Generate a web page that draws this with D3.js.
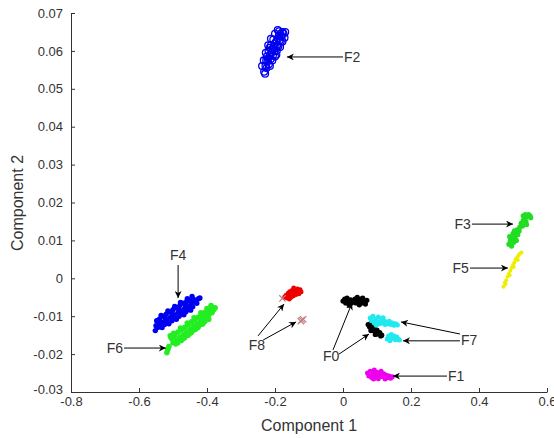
<!DOCTYPE html>
<html lang="en">
<head>
<meta charset="utf-8">
<title>Component scatter</title>
<script src="https://cdn.jsdelivr.net/npm/d3@7"></script>
<style>
  body { margin: 0; background: #fff; }
  svg { font-family: "Liberation Sans", Arial, sans-serif; }
  .tick text { font-size: 13px; fill: #333; }
  .axis path, .axis line { stroke: #333; }
  .lab { font-size: 16px; fill: #333; }
  .ann { font-size: 14px; fill: #333; }
</style>
</head>
<body>
<script>
// ---- data ----
var xTicks = [-0.8, -0.6, -0.4, -0.2, 0, 0.2, 0.4, 0.6];
var xTickLabels = ["-0.8", "-0.6", "-0.4", "-0.2", "0", "0.2", "0.4", "0.6"];
var yTicks = [-0.03, -0.02, -0.01, 0, 0.01, 0.02, 0.03, 0.04, 0.05, 0.06, 0.07];
var yTickLabels = ["-0.03", "-0.02", "-0.01", "0", "0.01", "0.02", "0.03", "0.04", "0.05", "0.06", "0.07"];

var F2 = [[-0.232,0.0545],[-0.228,0.0560],[-0.225,0.0555],[-0.222,0.0572],[-0.220,0.0580],[-0.218,0.0565],
  [-0.215,0.0590],[-0.213,0.0578],[-0.210,0.0595],[-0.208,0.0605],[-0.206,0.0588],[-0.204,0.0612],
  [-0.202,0.0600],[-0.200,0.0620],[-0.198,0.0610],[-0.196,0.0625],[-0.193,0.0615],[-0.191,0.0632],
  [-0.189,0.0640],[-0.186,0.0628],[-0.184,0.0645],[-0.181,0.0638],[-0.178,0.0650],[-0.175,0.0645],
  [-0.212,0.0615],[-0.219,0.0600],[-0.224,0.0585],[-0.200,0.0585],[-0.195,0.0600],[-0.190,0.0612],
  [-0.226,0.0575],[-0.216,0.0608],[-0.205,0.0630],[-0.188,0.0652],[-0.183,0.0625],[-0.229,0.0540],
  [-0.238,0.0560],[-0.233,0.0575],[-0.227,0.0595],[-0.220,0.0615],[-0.212,0.0632],[-0.200,0.0645],
  [-0.192,0.0655],[-0.185,0.0610],[-0.178,0.0625],[-0.172,0.0635],[-0.215,0.0560],[-0.208,0.0575],
  [-0.196,0.0590],[-0.170,0.0650]];

var F4 = [[-0.550,-0.0125],[-0.545,-0.0130],[-0.548,-0.0112],[-0.540,-0.0108],[-0.538,-0.0122],[-0.535,-0.0128],
  [-0.530,-0.0100],[-0.528,-0.0115],[-0.525,-0.0122],[-0.520,-0.0095],[-0.518,-0.0110],[-0.515,-0.0117],
  [-0.510,-0.0088],[-0.507,-0.0103],[-0.503,-0.0112],[-0.500,-0.0083],[-0.497,-0.0097],[-0.493,-0.0106],
  [-0.490,-0.0078],[-0.486,-0.0092],[-0.482,-0.0100],[-0.480,-0.0072],[-0.476,-0.0086],[-0.472,-0.0094],
  [-0.470,-0.0066],[-0.466,-0.0080],[-0.462,-0.0088],[-0.460,-0.0062],[-0.456,-0.0075],[-0.452,-0.0082],
  [-0.450,-0.0058],[-0.446,-0.0068],[-0.442,-0.0075],[-0.440,-0.0055],[-0.435,-0.0062],[-0.430,-0.0066],
  [-0.425,-0.0054],[-0.421,-0.0052],
  [-0.535,-0.0098],[-0.515,-0.0086],[-0.495,-0.0074],[-0.478,-0.0064],[-0.458,-0.0054],[-0.444,-0.0048],
  [-0.552,-0.0138],[-0.532,-0.0130],[-0.512,-0.0120],[-0.490,-0.0108],[-0.468,-0.0096],[-0.448,-0.0084],
  [-0.543,-0.0114],[-0.523,-0.0104],[-0.503,-0.0093],[-0.483,-0.0082],[-0.463,-0.0072],[-0.443,-0.0061]];

var F6 = [[-0.518,-0.0196],[-0.515,-0.0188],[-0.512,-0.0180],[-0.505,-0.0158],[-0.500,-0.0170],[-0.508,-0.0152],
  [-0.495,-0.0150],[-0.490,-0.0163],[-0.486,-0.0170],[-0.485,-0.0142],[-0.480,-0.0156],[-0.476,-0.0164],
  [-0.475,-0.0136],[-0.470,-0.0149],[-0.466,-0.0157],[-0.465,-0.0129],[-0.460,-0.0142],[-0.456,-0.0150],
  [-0.455,-0.0122],[-0.450,-0.0135],[-0.446,-0.0143],[-0.445,-0.0115],[-0.440,-0.0128],[-0.436,-0.0136],
  [-0.435,-0.0108],[-0.430,-0.0121],[-0.426,-0.0129],[-0.425,-0.0102],[-0.420,-0.0114],[-0.416,-0.0121],
  [-0.415,-0.0096],[-0.410,-0.0107],[-0.406,-0.0113],[-0.405,-0.0090],[-0.400,-0.0100],[-0.396,-0.0104],
  [-0.395,-0.0085],[-0.390,-0.0092],[-0.385,-0.0090],[-0.380,-0.0082],[-0.376,-0.0078],[-0.383,-0.0080],
  [-0.498,-0.0145],[-0.478,-0.0131],[-0.458,-0.0118],[-0.438,-0.0104],[-0.418,-0.0091],[-0.400,-0.0080],
  [-0.388,-0.0072],
  [-0.492,-0.0173],[-0.472,-0.0160],[-0.452,-0.0146],[-0.432,-0.0133],[-0.412,-0.0120],[-0.395,-0.0108]];

var F8 = [[-0.172,-0.0050],[-0.168,-0.0045],[-0.165,-0.0052],[-0.162,-0.0040],[-0.160,-0.0047],[-0.157,-0.0035],
  [-0.155,-0.0043],[-0.152,-0.0050],[-0.150,-0.0032],[-0.148,-0.0040],[-0.145,-0.0046],[-0.142,-0.0030],
  [-0.140,-0.0037],[-0.137,-0.0043],[-0.134,-0.0028],[-0.132,-0.0035],[-0.129,-0.0041],[-0.126,-0.0030],
  [-0.123,-0.0036],[-0.158,-0.0055],[-0.145,-0.0025]];
var F8x = [[-0.121,-0.0110],[-0.117,-0.0108],[-0.124,-0.0113],[-0.178,-0.0053]];

var F0 = [[0.000,-0.0060],[0.005,-0.0055],[0.008,-0.0065],[0.012,-0.0052],[0.015,-0.0062],[0.018,-0.0070],
  [0.022,-0.0057],[0.025,-0.0065],[0.030,-0.0060],[0.035,-0.0055],[0.038,-0.0065],[0.042,-0.0050],
  [0.045,-0.0060],[0.048,-0.0070],[0.052,-0.0055],[0.055,-0.0065],[0.058,-0.0052],[0.062,-0.0060],
  [0.066,-0.0068],[0.070,-0.0058],
  [0.074,-0.0122],[0.078,-0.0128],[0.080,-0.0120],[0.084,-0.0133],[0.087,-0.0127],[0.090,-0.0138],
  [0.093,-0.0132],[0.097,-0.0142],[0.100,-0.0137],[0.104,-0.0147],[0.108,-0.0143],[0.111,-0.0152],
  [0.114,-0.0150],[0.082,-0.0138],[0.095,-0.0148]];

var F7 = [[0.080,-0.0105],[0.084,-0.0112],[0.088,-0.0100],[0.092,-0.0118],[0.096,-0.0108],[0.100,-0.0115],
  [0.104,-0.0102],[0.108,-0.0120],[0.112,-0.0110],[0.116,-0.0118],[0.120,-0.0112],[0.124,-0.0122],
  [0.128,-0.0115],[0.132,-0.0120],[0.136,-0.0113],[0.140,-0.0122],[0.145,-0.0118],[0.150,-0.0124],
  [0.155,-0.0120],[0.160,-0.0123],[0.098,-0.0124],[0.118,-0.0104],
  [0.130,-0.0160],[0.134,-0.0152],[0.138,-0.0165],[0.142,-0.0148],[0.146,-0.0158],[0.150,-0.0152],
  [0.154,-0.0162],[0.158,-0.0155],[0.162,-0.0160],[0.166,-0.0163],[0.140,-0.0158]];

var F1 = [[0.072,-0.0250],[0.076,-0.0258],[0.080,-0.0245],[0.084,-0.0262],[0.088,-0.0252],[0.092,-0.0242],
  [0.096,-0.0258],[0.100,-0.0248],[0.104,-0.0265],[0.108,-0.0255],[0.112,-0.0245],[0.116,-0.0260],
  [0.120,-0.0252],[0.124,-0.0266],[0.128,-0.0256],[0.132,-0.0262],[0.136,-0.0258],[0.140,-0.0264],
  [0.145,-0.0260],[0.090,-0.0266]];

var F3 = [[0.488,0.0090],[0.492,0.0100],[0.490,0.0110],[0.496,0.0085],[0.498,0.0105],[0.502,0.0095],
  [0.500,0.0118],[0.506,0.0110],[0.510,0.0100],[0.508,0.0122],[0.514,0.0115],[0.518,0.0125],
  [0.512,0.0128],[0.504,0.0125],
  [0.520,0.0135],[0.524,0.0145],[0.528,0.0138],[0.530,0.0152],[0.534,0.0160],[0.538,0.0150],
  [0.542,0.0163],[0.546,0.0168],[0.550,0.0165],[0.552,0.0160],[0.540,0.0142],[0.530,0.0165],[0.536,0.0168]];

var F5 = [[0.472,-0.0022],[0.476,-0.0012],[0.480,-0.0005],[0.484,0.0005],[0.488,0.0012],[0.492,0.0020],
  [0.496,0.0028],[0.500,0.0035],[0.504,0.0042],[0.508,0.0050],[0.512,0.0055],[0.516,0.0060],
  [0.520,0.0065],[0.525,0.0068],[0.478,-0.0015],[0.490,0.0008],[0.502,0.0030],[0.514,0.0048]];

// annotation labels: text, text anchor point, arrows [from, to] in data units
var annotations = [
  {t: "F2", at: [0.003, 0.0584], anchor: "start", arrows: [[[0.0, 0.0584], [-0.165, 0.0584]]]},
  {t: "F3", at: [0.376, 0.0143], anchor: "end", arrows: [[[0.379, 0.0143], [0.500, 0.0143]]]},
  {t: "F5", at: [0.370, 0.0027], anchor: "end", arrows: [[[0.3735, 0.0027], [0.485, 0.0027]]]},
  {t: "F4", at: [-0.485, 0.0060], anchor: "middle", arrows: [[[-0.485, 0.0035], [-0.485, -0.0052]]]},
  {t: "F6", at: [-0.647, -0.0184], anchor: "end", arrows: [[[-0.644, -0.0184], [-0.521, -0.0184]]]},
  {t: "F8", at: [-0.253, -0.0176], anchor: "middle", arrows: [[[-0.250, -0.0152], [-0.1735, -0.0068]], [[-0.235, -0.0163], [-0.138, -0.0115]]]},
  {t: "F0", at: [-0.035, -0.0205], anchor: "middle", arrows: [[[-0.0294, -0.0189], [0.0265, -0.0065]], [[-0.0118, -0.0200], [0.0765, -0.0147]]]},
  {t: "F7", at: [0.347, -0.0163], anchor: "start", arrows: [[[0.344, -0.0147], [0.1706, -0.0115]], [[0.344, -0.0165], [0.1765, -0.0165]]]},
  {t: "F1", at: [0.309, -0.0258], anchor: "start", arrows: [[[0.3059, -0.0258], [0.147, -0.0258]]]}
];

// ---- layout ----
var w = 554, h = 438;
var x = d3.scaleLinear().domain([-0.8, 0.6]).range([71, 547]);
var y = d3.scaleLinear().domain([-0.03, 0.07]).range([392, 13]);

var svg = d3.select("body").append("svg").attr("width", w).attr("height", h);

svg.append("defs").append("marker")
  .attr("id", "head").attr("viewBox", "0 0 10 10")
  .attr("refX", 10).attr("refY", 5)
  .attr("markerWidth", 7).attr("markerHeight", 7)
  .attr("markerUnits", "userSpaceOnUse")
  .attr("orient", "auto")
  .append("path").attr("d", "M0,0L10,5L0,10L3,5z").attr("fill", "#000");

// axes
var xAxis = d3.axisBottom(x).tickValues(xTicks)
  .tickFormat(function(d, i) { return xTickLabels[i]; })
  .tickSizeInner(-4).tickSizeOuter(0).tickPadding(5);
var yAxis = d3.axisLeft(y).tickValues(yTicks)
  .tickFormat(function(d, i) { return yTickLabels[i]; })
  .tickSizeInner(-4).tickSizeOuter(0).tickPadding(8);

svg.append("g").attr("class", "axis").attr("transform", "translate(0,392)").call(xAxis);
svg.append("g").attr("class", "axis").attr("transform", "translate(71,0)").call(yAxis)
  .selectAll(".tick text").filter(function(d) { return d === -0.03; }).attr("dy", "0.1em");

svg.append("text").attr("class", "lab").attr("x", 309).attr("y", 431)
  .attr("text-anchor", "middle").text("Component 1");
svg.append("text").attr("class", "lab").attr("transform", "translate(23,203) rotate(-90)")
  .attr("text-anchor", "middle").text("Component 2");

// clusters
function dots(data, color, r) {
  svg.append("g").selectAll("circle").data(data).enter().append("circle")
    .attr("cx", function(d) { return x(d[0]); })
    .attr("cy", function(d) { return y(d[1]); })
    .attr("r", r).attr("fill", color);
}

svg.append("g").selectAll("circle").data(F2).enter().append("circle")
  .attr("cx", function(d) { return x(d[0]); })
  .attr("cy", function(d) { return y(d[1]); })
  .attr("r", 3.4).attr("fill", "none").attr("stroke", "#0000ee").attr("stroke-width", 1.3);

dots(F4, "#0000f0", 2.7);
dots(F6, "#22ee22", 2.8);
dots(F8, "#ee0000", 2.4);
dots(F0, "#000", 2.6);
dots(F7, "#22e8f0", 2.5);
dots(F1, "#ee00ee", 2.5);
dots(F3, "#22dd22", 2.6);
dots(F5, "#eeee00", 2.0);

svg.append("g").selectAll("path").data(F8x).enter().append("path")
  .attr("transform", function(d) { return "translate(" + x(d[0]) + "," + y(d[1]) + ")"; })
  .attr("d", d3.symbol().type(d3.symbolTimes).size(28))
  .attr("fill", "none").attr("stroke", "#c07f80").attr("stroke-width", 1.2);

// annotations
var ann = svg.append("g");
annotations.forEach(function(a) {
  a.arrows.forEach(function(s) {
    ann.append("line")
      .attr("x1", x(s[0][0])).attr("y1", y(s[0][1]))
      .attr("x2", x(s[1][0])).attr("y2", y(s[1][1]))
      .attr("stroke", "#000").attr("stroke-width", 1)
      .attr("marker-end", "url(#head)");
  });
  ann.append("text").attr("class", "ann")
    .attr("x", x(a.at[0])).attr("y", y(a.at[1]))
    .attr("dy", "0.35em").attr("text-anchor", a.anchor)
    .text(a.t);
});
</script>
</body>
</html>
